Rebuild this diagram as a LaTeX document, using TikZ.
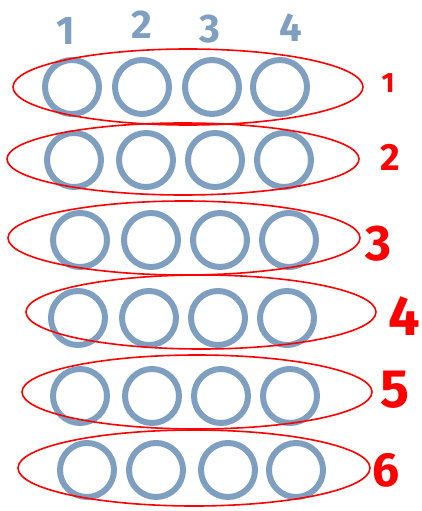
\documentclass[tikz,border=0pt]{standalone}
\usepackage{fontspec}
\setmainfont{Fira Sans}
\usetikzlibrary{shapes.geometric}
\definecolor{ringblue}{RGB}{127,159,193}
\begin{document}
\begin{tikzpicture}[x=1pt,y=-1pt,
  ring/.style={circle,draw=ringblue,line width=6pt,minimum size=54pt,inner sep=0pt},
  group/.style={ellipse,draw=red,line width=1.6pt,inner sep=0pt},
  collab/.style={text=ringblue,font=\bfseries\fontsize{40}{40}\selectfont,inner sep=0pt},
  rowlab/.style={text=red,font=\bfseries\fontsize{#1}{#1}\selectfont,inner sep=0pt}]
\useasboundingbox (0,0) rectangle (422,511);
% column labels
\node[collab] (c1) at (66,31) {1};
\node[collab] (c2) at (142,25) {2};
\node[collab] (c3) at (210,29) {3};
\node[collab] (c4) at (291,28) {4};
% rings and groups
\foreach \r/\ex/\ey/\rx/\ry/\cy/\xa/\xb/\xc/\xd/\lx/\ly/\fs in {
  1/188/87/175/38/87/72/142/212/280/388/83/28,
  2/183/159/176/36/160/74/146/215/284/390/157/38,
  3/184/238/176/37/240/80/151/220/289/378/244/50,
  4/201/312/175/37/318/78/149/218/287/404/316/56,
  5/197/392/175/37/396/80/152/221/290/395/390/54,
  6/194/468/176/38/470/87/156/228/296/386/470/48}{
  \node[ring] (r\r a) at (\xa,\cy) {};
  \node[ring] (r\r b) at (\xb,\cy) {};
  \node[ring] (r\r c) at (\xc,\cy) {};
  \node[ring] (r\r d) at (\xd,\cy) {};
  \node[group,minimum width=2*\rx pt,minimum height=2*\ry pt] (g\r) at (\ex,\ey) {};
  \node[rowlab=\fs] (l\r) at (\lx,\ly) {\r};
}
\end{tikzpicture}
\end{document}
